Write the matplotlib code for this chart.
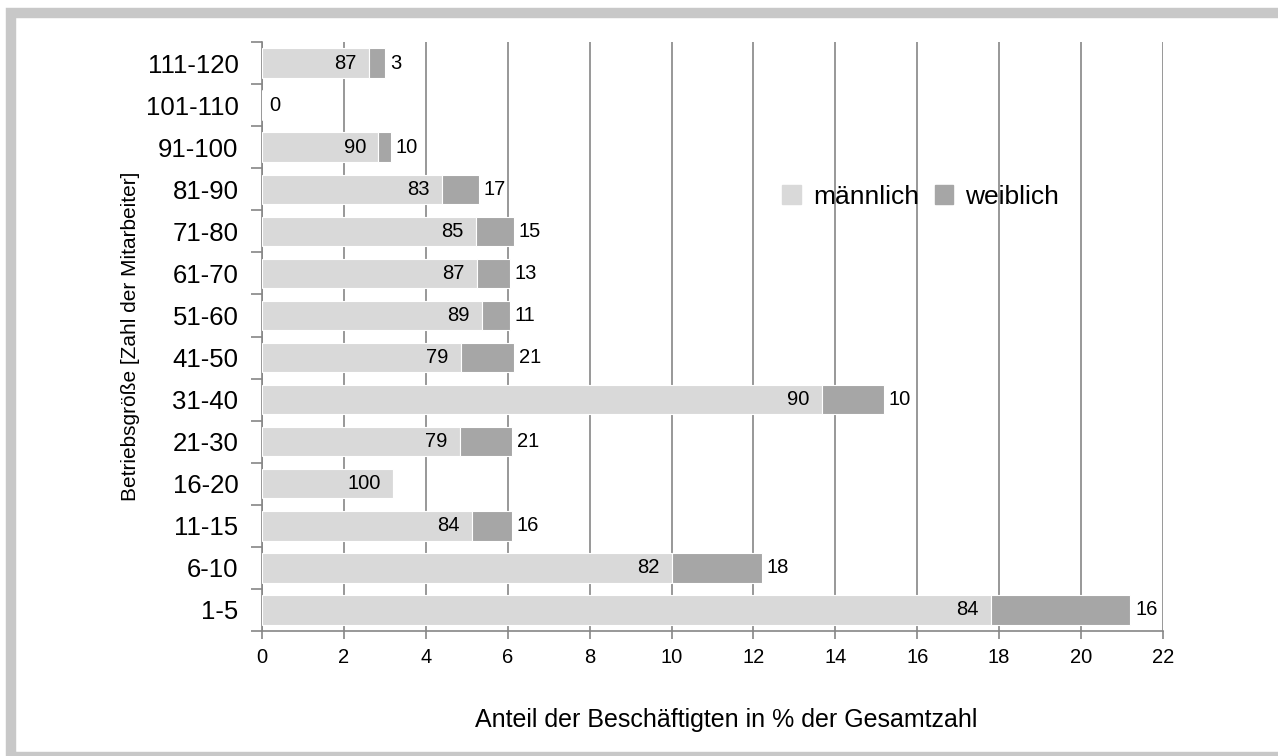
import matplotlib
matplotlib.use('Agg')
import matplotlib.pyplot as plt
from matplotlib.patches import Rectangle, Patch
import numpy as np

plt.rcParams['font.family'] = ['Liberation Sans', 'DejaVu Sans']

categories = ['1-5', '6-10', '11-15', '16-20', '21-30', '31-40', '41-50',
              '51-60', '61-70', '71-80', '81-90', '91-100', '101-110', '111-120']
# segment lengths in % of all employees
male_vals = [17.81, 10.0, 5.13, 3.2, 4.83, 13.67, 4.86, 5.37, 5.25, 5.22, 4.4, 2.84, 0.0, 2.61]
female_vals = [3.39, 2.2, 0.97, 0.0, 1.27, 1.51, 1.29, 0.68, 0.8, 0.93, 0.9, 0.3, 0.0, 0.39]
# share within size class (labels)
male_lbl = ['84', '82', '84', '100', '79', '90', '79', '89', '87', '85', '83', '90', '0', '87']
female_lbl = ['16', '18', '16', '', '21', '10', '21', '11', '13', '15', '17', '10', '', '3']

c_male = '#d9d9d9'
c_female = '#a6a6a6'
c_axis = '#868686'

fig = plt.figure(figsize=(12.78, 7.56), dpi=100)
ax = fig.add_axes([262 / 1278, 1 - 631 / 756, (1163 - 262) / 1278, (631 - 42) / 756])

# gray frame around the picture
fig.patches.append(Rectangle((11 / 1278, -0.5 / 756), 1.05, 1 - 12.5 / 756,
                             transform=fig.transFigure, fill=False,
                             edgecolor='#c8c8c8', linewidth=7.5, zorder=0))

y = np.arange(len(categories))
male = np.array(male_vals)
female = np.array(female_vals)
ax.barh(y, male, height=0.7, color=c_male, edgecolor='white', linewidth=0.8, zorder=3)
ax.barh(y, female, left=male, height=0.7, color=c_female, edgecolor='white', linewidth=0.8, zorder=3)

for i in range(len(categories)):
    if male[i] > 0:
        ax.text(male[i] - 0.3, y[i], male_lbl[i], ha='right', va='center', fontsize=14.5, zorder=4)
    else:
        ax.text(0.17, y[i], male_lbl[i], ha='left', va='center', fontsize=14.5, zorder=4)
    if female_lbl[i]:
        ax.text(male[i] + female[i] + 0.12, y[i], female_lbl[i], ha='left', va='center',
                fontsize=14.5, zorder=4)

ax.set_xlim(0, 22)
ax.set_ylim(-0.5, len(categories) - 0.5)
ax.set_xticks(np.arange(0, 23, 2))
ax.set_yticks(y)
ax.set_yticklabels(categories, fontsize=18.5)
ax.set_yticks(np.arange(-0.5, len(categories), 1), minor=True)
ax.tick_params(axis='y', which='major', length=0, pad=17)
ax.tick_params(axis='y', which='minor', length=8, color=c_axis, width=1.2)
ax.tick_params(axis='x', length=6, color=c_axis, width=1.2, labelsize=14.5, pad=6)
ax.xaxis.grid(True, color=c_axis, linewidth=1.2, zorder=0)
ax.set_axisbelow(True)
for s in ['top', 'right']:
    ax.spines[s].set_visible(False)
for s in ['left', 'bottom']:
    ax.spines[s].set_color(c_axis)
    ax.spines[s].set_linewidth(1.2)

ax.set_xlabel('Anteil der Beschäftigten in % der Gesamtzahl', fontsize=18)
ax.xaxis.set_label_coords((726 - 262) / 901, -(720 - 631) / 589)
ax.xaxis.label.set_va('center')
ax.set_ylabel('Betriebsgröße [Zahl der Mitarbeiter]', fontsize=15, labelpad=4)

handles = [Patch(color=c_male), Patch(color=c_female)]
ax.legend(handles, ['männlich', 'weiblich'], loc='center', bbox_to_anchor=(0.731, 0.737),
          ncol=2, frameon=False, fontsize=19, handlelength=0.7, handleheight=0.7,
          handletextpad=0.45, columnspacing=0.6, borderaxespad=0)

fig.savefig('out.png', dpi=100, facecolor='white')
